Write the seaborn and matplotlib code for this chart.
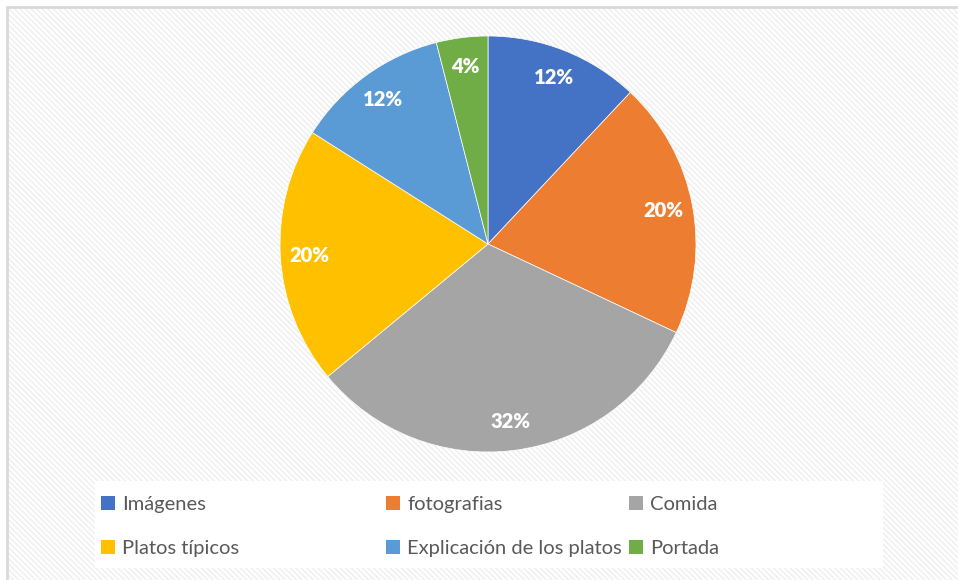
import matplotlib
matplotlib.use("Agg")
import matplotlib.pyplot as plt
import seaborn as sns
from matplotlib.patches import Rectangle, Patch

sns.set_theme(style="white")
plt.rcParams['font.family'] = ['Lato', 'DejaVu Sans']
plt.rcParams['hatch.linewidth'] = 1.2

categories = ["Imágenes", "fotografias", "Comida", "Platos típicos",
              "Explicación de los platos", "Portada"]
values = [12, 20, 32, 20, 12, 4]
colors = ["#4472C4", "#ED7D31", "#A5A5A5", "#FFC000", "#5B9BD5", "#70AD47"]

W, H = 958, 580
fig = plt.figure(figsize=(W / 100, H / 100), dpi=100)
fig.patch.set_facecolor("white")

# hatched background with border
bg = Rectangle((7 / W, 0), 1 - 7 / W, 1 - 7 / H, transform=fig.transFigure,
               facecolor="white", edgecolor="#f0f0f0", hatch="\\" * 6,
               linewidth=0, zorder=-10)
fig.patches.append(bg)
border = Rectangle((7 / W, -0.01), 1.1, 1 - 7 / H + 0.01, transform=fig.transFigure,
                   facecolor="none", edgecolor="#d9d9d9", linewidth=2, zorder=-9)
fig.patches.append(border)
# legend white box
lb = Rectangle((95 / W, (H - 568) / H), (883 - 95) / W, (568 - 481) / H,
               transform=fig.transFigure, facecolor="white", edgecolor="none",
               zorder=-8)
fig.patches.append(lb)

cx, cy, r = 488, 244, 208
ax = fig.add_axes([(cx - r) / W, (H - cy - r) / H, 2 * r / W, 2 * r / H])
wedges, texts, autotexts = ax.pie(
    values, colors=colors, startangle=90, counterclock=False,
    autopct=lambda p: f"{p:.0f}%", pctdistance=0.86,
    wedgeprops=dict(edgecolor="white", linewidth=0.5),
    textprops=dict(color="white", fontsize=14.5, fontweight="heavy"))
ax.set_aspect("equal")
ax.set_xlim(-1, 1)
ax.set_ylim(-1, 1)
ax.axis("off")

# legend: three columns placed like the original
cols = [(103, [0, 3]), (388, [1, 4]), (631, [2, 5])]
for x, idx in cols:
    handles = [Patch(facecolor=colors[i], edgecolor="none") for i in idx]
    labels = [categories[i] for i in idx]
    leg = fig.legend(handles, labels, loc="upper left",
                     bbox_to_anchor=(x / W - 0.002, (H - 496) / H),
                     frameon=False, fontsize=14.5, labelcolor="#595959",
                     handlelength=0.7, handleheight=0.7, handletextpad=0.35,
                     labelspacing=1.35, borderpad=0, borderaxespad=0)

fig.savefig("out.png", dpi=100, facecolor=fig.get_facecolor())
